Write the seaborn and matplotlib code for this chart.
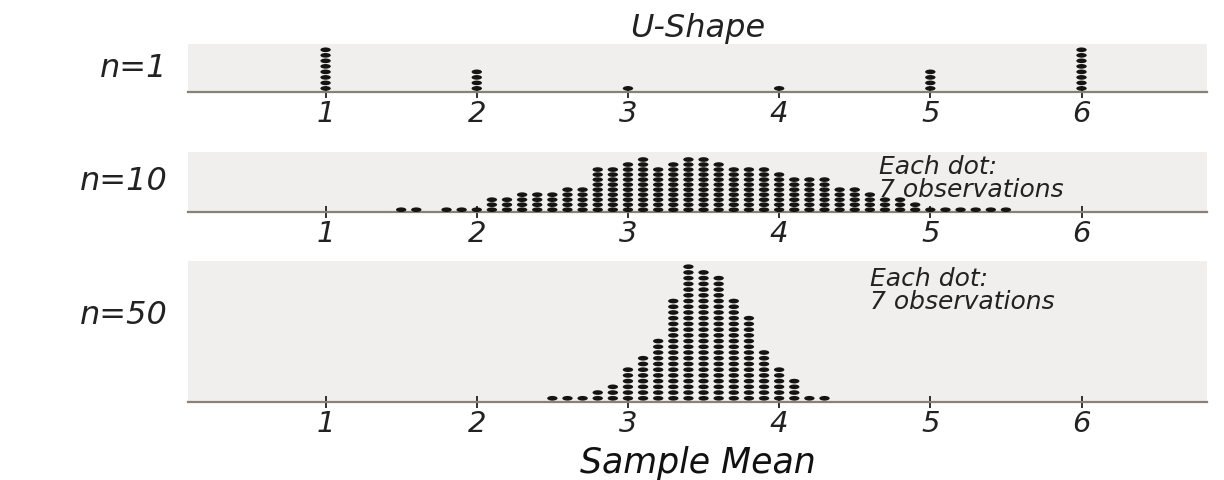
import numpy as np
import pandas as pd
import matplotlib
matplotlib.use("Agg")
import matplotlib.pyplot as plt
import seaborn as sns
from matplotlib.path import Path
from matplotlib.transforms import Affine2D

# Sample-mean values and number of stacked dots at each value
means_n1 = [1, 2, 3, 4, 5, 6]
dots_n1 = [8, 4, 1, 1, 4, 8]

means_n10 = [1.5, 1.6, 1.8, 1.9, 2.0, 2.1, 2.2, 2.3, 2.4, 2.5, 2.6, 2.7, 2.8, 2.9,
             3.0, 3.1, 3.2, 3.3, 3.4, 3.5, 3.6, 3.7, 3.8, 3.9, 4.0, 4.1, 4.2, 4.3,
             4.4, 4.5, 4.6, 4.7, 4.8, 4.9, 5.0, 5.1, 5.2, 5.3, 5.4, 5.5]
dots_n10 = [1, 1, 1, 1, 1, 3, 3, 4, 4, 4, 5, 5, 9, 9,
            10, 11, 9, 10, 11, 11, 10, 9, 9, 9, 8, 7, 7, 7,
            5, 5, 4, 3, 3, 2, 1, 1, 1, 1, 1, 1]

means_n50 = [2.5, 2.6, 2.7, 2.8, 2.9, 3.0, 3.1, 3.2, 3.3, 3.4,
             3.5, 3.6, 3.7, 3.8, 3.9, 4.0, 4.1, 4.2, 4.3]
dots_n50 = [1, 1, 1, 2, 3, 6, 8, 11, 18, 24,
            23, 22, 18, 15, 9, 6, 4, 1, 1]

panel_labels = ["n=1", "n=10", "n=50"]
dot_notes = [None, "Each dot:\n7 observations", "Each dot:\n7 observations"]
tick_values = [1, 2, 3, 4, 5, 6]
tick_labels = ["1", "2", "3", "4", "5", "6"]
title = "U-Shape"
x_label = "Sample Mean"

sns.set_theme(style="white")
plt.rcParams["font.family"] = ["DejaVu Sans"]
plt.rcParams["font.style"] = "italic"


def stacked(means, counts):
    rows = []
    for m, c in zip(means, counts):
        for level in range(1, c + 1):
            rows.append((m, level))
    return pd.DataFrame(rows, columns=["mean", "level"])


# flattened dot shape
dot_marker = Path.unit_circle().transformed(Affine2D().scale(1.0, 0.45))

W, H = 1224, 481
fig = plt.figure(figsize=(W / 100, H / 100), dpi=100)

# (top, bottom) pixel rows of each panel, y-limits in dot levels, label height
panels = [
    (45, 93, (0.35, 9.05), 0.50),
    (153, 213, (0.55, 12.5), 0.52),
    (262, 403, (0.35, 25.0), 0.62),
]
left_px, right_px = 188, 1207
data = [(means_n1, dots_n1), (means_n10, dots_n10), (means_n50, dots_n50)]
note_pos = [None, (0.678, 0.58), (0.669, 0.80)]

bg = "#f0efed"
base_col = "#8a8176"
axes = []
for i, ((top, bot, ylim, ylab_y), (m, c)) in enumerate(zip(panels, data)):
    ax = fig.add_axes([left_px / W, 1 - bot / H, (right_px - left_px) / W, (bot - top) / H])
    ax.set_facecolor(bg)
    df = stacked(m, c)
    sns.scatterplot(data=df, x="mean", y="level", ax=ax, marker=dot_marker,
                    s=56, color="#161412", linewidth=0, edgecolor="none",
                    legend=False, zorder=3)
    ax.set_xlim(0.09, 6.83)
    ax.set_ylim(*ylim)
    ax.set_yticks([])
    ax.set_xticks(tick_values)
    ax.set_xticklabels(tick_labels)
    ax.tick_params(axis="x", direction="inout", length=8, width=1.3,
                   color="#222222", labelsize=21, pad=1, labelcolor="#222222",
                   bottom=True)
    for side in ["left", "right", "top"]:
        ax.spines[side].set_visible(False)
    ax.spines["bottom"].set_color(base_col)
    ax.spines["bottom"].set_linewidth(1.6)
    ax.set_xlabel("")
    ax.set_ylabel(panel_labels[i], rotation=0, fontsize=23, ha="right",
                  va="center", color="#222222")
    ax.yaxis.set_label_coords(-0.02, ylab_y)
    if dot_notes[i]:
        nx, ny = note_pos[i]
        ax.text(nx, ny, dot_notes[i], transform=ax.transAxes, fontsize=18,
                ha="left", va="center", linespacing=0.95, color="#222222")
    axes.append(ax)

axes[0].set_title(title, fontsize=23, pad=6, color="#222222")
axes[2].set_xlabel(x_label, fontsize=25, labelpad=6, color="#111111")

fig.savefig("out.png", dpi=100, facecolor="white")
